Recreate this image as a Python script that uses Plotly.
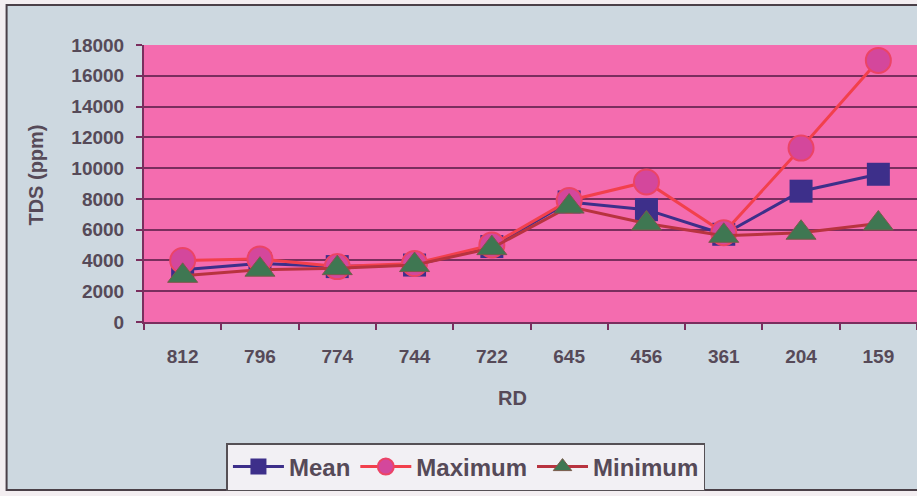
import plotly.graph_objects as go

categories = ["812", "796", "774", "744", "722", "645", "456", "361", "204", "159"]
mean_vals = [3400, 3800, 3600, 3700, 4900, 7800, 7300, 5700, 8500, 9600]
max_vals = [4000, 4100, 3600, 3800, 5000, 7900, 9100, 5800, 11300, 17000]
min_vals = [3000, 3400, 3500, 3700, 4800, 7500, 6400, 5600, 5800, 6400]
y_ticks = [0, 2000, 4000, 6000, 8000, 10000, 12000, 14000, 16000, 18000]
y_tick_labels = [str(v) for v in y_ticks]

W, H = 917, 496
L, R, T, B = 143.5, 0, 45, 174
pw, ph = W - L - R, H - T - B

def px(x):
    return (x - L) / pw

def py(y):
    return (H - B - y) / ph

text_col = "#564a58"
grid_col = "#7a2e5e"
FONT = "Liberation Sans, Arial, sans-serif"

fig = go.Figure()
fig.add_trace(go.Scatter(
    x=categories, y=mean_vals, name="Mean", mode="lines+markers",
    line=dict(color="#3d2f8a", width=3),
    marker=dict(symbol="square", size=23, color="#3d2f8a", line=dict(width=0)),
))
fig.add_trace(go.Scatter(
    x=categories, y=max_vals, name="Maximum", mode="lines+markers",
    line=dict(color="#f2404c", width=3),
    marker=dict(symbol="circle", size=25, color="#d4479c", line=dict(color="#ec4466", width=2)),
))
fig.add_trace(go.Scatter(
    x=categories, y=min_vals, name="Minimum", mode="lines+markers",
    line=dict(color="#b8333f", width=3),
    marker=dict(symbol="triangle-up", size=26, color="#3f7752", line=dict(color="#7a5a4a", width=1)),
))

fig.update_layout(
    width=W, height=H,
    margin=dict(l=L, r=R, t=T, b=B, autoexpand=False),
    paper_bgcolor="#f3eef1",
    plot_bgcolor="#f46caf",
    font=dict(family=FONT, color=text_col),
    showlegend=True,
    legend=dict(
        orientation="h", x=px(226), y=py(443), xanchor="left", yanchor="top",
        bgcolor="#f2f0f4", bordercolor="#555055", borderwidth=1.5,
        font=dict(size=24, color=text_col, family=FONT, weight="bold"),
        itemwidth=51, tracegroupgap=0,
    ),
    shapes=[
        dict(type="rect", xref="paper", yref="paper",
             x0=px(6), x1=px(930), y0=py(490), y1=py(5),
             fillcolor="#cdd8e0", line=dict(color="#4a4048", width=2), layer="below"),
        dict(type="rect", xref="paper", yref="paper",
             x0=0, x1=1, y0=0, y1=1,
             fillcolor="#f46caf", line=dict(width=0), layer="below"),
    ],
    annotations=[
        dict(text="<b>TDS (ppm)</b>", xref="paper", yref="paper", x=px(35), y=py(175),
             textangle=-90, showarrow=False, font=dict(size=20, color=text_col),
             xanchor="center", yanchor="middle"),
        dict(text="<b>RD</b>", xref="paper", yref="paper", x=px(512), y=py(398),
             showarrow=False, font=dict(size=20, color=text_col),
             xanchor="center", yanchor="middle"),
    ],
)

fig.update_xaxes(
    type="category", range=[-0.5, 9.5],
    showgrid=False, showline=True, linecolor=grid_col, linewidth=2,
    ticks="outside", ticklen=6, tickcolor=grid_col, tickwidth=2,
    tickson="boundaries",
    tickfont=dict(size=19, color=text_col, weight="bold"),
    ticklabelstandoff=16,
)
fig.update_yaxes(
    range=[0, 18000], tickvals=y_ticks, ticktext=y_tick_labels,
    showgrid=True, gridcolor=grid_col, gridwidth=2,
    showline=True, linecolor=grid_col, linewidth=2,
    ticks="outside", ticklen=6, tickcolor=grid_col, tickwidth=2,
    tickfont=dict(size=19, color=text_col, weight="bold"),
    ticklabelstandoff=8,
    zeroline=False,
)

fig.write_html(
    "out.html",
    config={"displayModeBar": False},
    post_script="document.body.style.margin='0';document.body.style.overflow='hidden';",
)
